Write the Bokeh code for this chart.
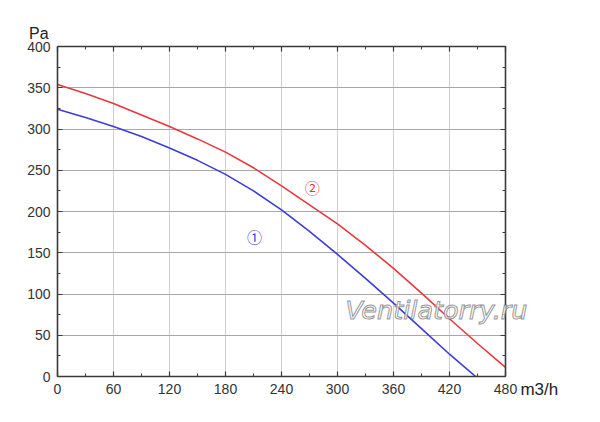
from bokeh.plotting import figure
from bokeh.models import LinearAxis, Range1d, SingleIntervalTicker, Label
from bokeh.embed import file_html
from bokeh.resources import INLINE

# ---- data ----
flow_red = [0, 30, 60, 90, 120, 150, 180, 210, 240, 270, 300, 330, 360, 390, 420, 450, 480]
pa_red = [354, 343, 331, 317, 303, 288, 272, 253, 231, 208, 185, 159, 131, 101, 70, 40, 11]

flow_blue = [0, 30, 60, 90, 120, 150, 180, 210, 240, 270, 300, 330, 360, 390, 420, 448]
pa_blue = [324, 314, 303, 291, 277, 262, 245, 225, 202, 176, 148, 119, 89, 58, 27, 0]

curve_labels = ["①", "②"]
curve_label_x = [211, 273]
curve_label_y = [170, 229]

x_unit = "m3/h"
y_unit = "Pa"
watermark = "Ventilatorry.ru"

AXIS_COLOR = "#3a3a3a"
FONT = "Liberation Sans"

p = figure(width=584, height=406, x_range=Range1d(0, 480), y_range=Range1d(0, 400),
           output_backend="svg", toolbar_location=None,
           min_border_left=57, min_border_right=79, min_border_top=46, min_border_bottom=30)
p.outline_line_color = None
p.background_fill_color = "white"
p.border_fill_color = "white"

xt = SingleIntervalTicker(interval=60, num_minor_ticks=2)
yt = SingleIntervalTicker(interval=50, num_minor_ticks=2)

def style_axis(ax, labels=True):
    ax.axis_line_color = AXIS_COLOR
    ax.axis_line_width = 1.6
    ax.major_tick_line_color = AXIS_COLOR
    ax.minor_tick_line_color = AXIS_COLOR
    ax.major_tick_line_width = 1.2
    ax.minor_tick_line_width = 1
    ax.major_tick_in = 5
    ax.major_tick_out = 0
    ax.minor_tick_in = 3
    ax.minor_tick_out = 0
    ax.major_label_text_font = FONT
    if labels:
        ax.major_label_text_font_size = "14px"
        ax.major_label_text_color = "#333333"
        ax.major_label_standoff = 7
    else:
        ax.major_label_text_font_size = "0px"
        ax.major_label_text_color = None
        ax.major_label_standoff = 0

p.xaxis.ticker = xt
p.yaxis.ticker = yt
style_axis(p.xaxis[0])
style_axis(p.yaxis[0])

top = LinearAxis(ticker=SingleIntervalTicker(interval=60, num_minor_ticks=2))
right = LinearAxis(ticker=SingleIntervalTicker(interval=50, num_minor_ticks=2))
style_axis(top, labels=False)
style_axis(right, labels=False)
p.add_layout(top, "above")
p.add_layout(right, "right")

p.xgrid.ticker = xt
p.ygrid.ticker = yt
p.xgrid.grid_line_color = "#cfcfcf"
p.ygrid.grid_line_color = "#a8a8a8"
p.xgrid.grid_line_width = 1
p.ygrid.grid_line_width = 1

p.line(flow_red, pa_red, line_color="#e8383d", line_width=1.6)
p.line(flow_blue, pa_blue, line_color="#3c3cdc", line_width=1.6)

label_colors = ["#3c3cdc", "#e8383d"]
for t, x, y, c in zip(curve_labels, curve_label_x, curve_label_y, label_colors):
    p.add_layout(Label(x=x, y=y, text=t, text_color=c, text_font="Noto Sans CJK SC",
                       text_font_size="15px", text_align="center", text_baseline="middle"))

# unit labels and watermark live in side panels so they are not clipped to the frame
p.add_layout(Label(x=-20, y=416, text=y_unit, text_font=FONT, text_font_size="16px",
                   text_color="#222222", text_align="center", text_baseline="middle"), "left")
p.add_layout(Label(x=496, y=-16, text=x_unit, text_font=FONT, text_font_size="17px",
                   text_color="#222222", text_align="left", text_baseline="middle"), "right")
p.add_layout(Label(x=406, y=81, text=watermark, text_font="DejaVu Sans", text_font_size="25.5px",
                   text_font_style="italic", text_color="white", text_alpha=0.75,
                   text_outline_color="#707070",
                   text_align="center", text_baseline="middle"), "above")

open("out.html", "w").write(file_html(p, INLINE))
